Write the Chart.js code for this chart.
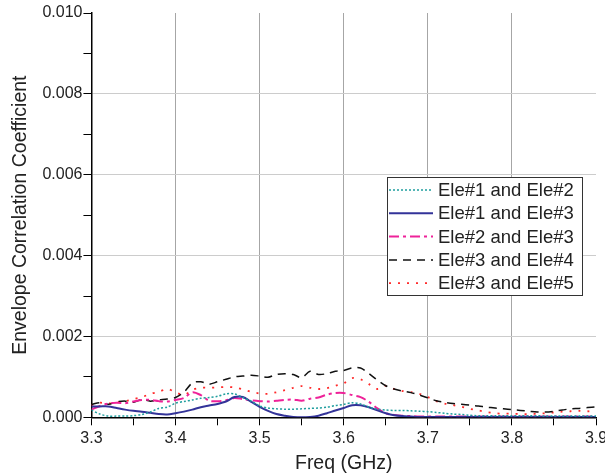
<!DOCTYPE html>
<html>
<head>
<meta charset="utf-8">
<script src="https://cdn.jsdelivr.net/npm/chart.js@4.4.0/dist/chart.umd.min.js"></script>
<style>
  html, body { margin: 0; padding: 0; background: #fff; }
</style>
</head>
<body>
<canvas id="eccChart" width="605" height="475"></canvas>
<script>
// Frequency points (GHz)
const freqs = [
    3.30, 3.31, 3.32, 3.33, 3.34, 3.35, 3.36, 3.37, 3.38, 3.39,
    3.40, 3.41, 3.42, 3.43, 3.44, 3.45, 3.46, 3.47, 3.48, 3.49,
    3.50, 3.51, 3.52, 3.53, 3.54, 3.55, 3.56, 3.57, 3.58, 3.59,
    3.60, 3.61, 3.62, 3.63, 3.64, 3.65, 3.66, 3.67, 3.68, 3.69,
    3.70, 3.71, 3.72, 3.73, 3.74, 3.75, 3.76, 3.77, 3.78, 3.79,
    3.80, 3.81, 3.82, 3.83, 3.84, 3.85, 3.86, 3.87, 3.88, 3.89,
    3.90
];

const seriesLabels = ['Ele#1 and Ele#2', 'Ele#1 and Ele#3', 'Ele#2 and Ele#3', 'Ele#3 and Ele#4', 'Ele#3 and Ele#5'];

const ecc12 = [
    0.00018, 0.00008, 0.00003, 0.00003, 0.00003, 0.00004, 0.00007, 0.00013, 0.00022, 0.00025,
    0.00035, 0.00039, 0.00043, 0.00047, 0.00049, 0.00052, 0.00058, 0.00058, 0.00049, 0.00040,
    0.00028, 0.00023, 0.00021, 0.00020, 0.00020, 0.00021, 0.00022, 0.00023, 0.00025, 0.00029,
    0.00032, 0.00036, 0.00033, 0.00025, 0.00020, 0.00018, 0.00017, 0.00017, 0.00016, 0.00015,
    0.00014, 0.00012, 0.00010, 0.00008, 0.00007, 0.00005, 0.00004, 0.00004, 0.00004, 0.00004,
    0.00004, 0.00004, 0.00004, 0.00004, 0.00003, 0.00003, 0.00003, 0.00003, 0.00003, 0.00003,
    0.00003
];

const ecc13 = [
    0.00027, 0.00027, 0.00027, 0.00023, 0.00019, 0.00016, 0.00014, 0.00011, 0.00008, 0.00007,
    0.00010, 0.00014, 0.00019, 0.00025, 0.00029, 0.00033, 0.00039, 0.00050, 0.00050, 0.00038,
    0.00026, 0.00016, 0.00008, 0.00004, 0.00001, 0.00000, 0.00001, 0.00004, 0.00010, 0.00017,
    0.00023, 0.00030, 0.00030, 0.00025, 0.00017, 0.00010, 0.00005, 0.00003, 0.00002, 0.00001,
    0.00001, 0.00001, 0.00001, 0.00001, 0.00001, 0.00001, 0.00001, 0.00001, 0.00001, 0.00001,
    0.00001, 0.00001, 0.00001, 0.00001, 0.00001, 0.00001, 0.00001, 0.00001, 0.00001, 0.00001,
    0.00001
];

const ecc23 = [
    0.00019, 0.00028, 0.00034, 0.00036, 0.00035, 0.00039, 0.00043, 0.00043, 0.00040, 0.00039,
    0.00043, 0.00048, 0.00062, 0.00055, 0.00041, 0.00040, 0.00042, 0.00048, 0.00045, 0.00042,
    0.00040, 0.00039, 0.00041, 0.00043, 0.00044, 0.00041, 0.00046, 0.00049, 0.00056, 0.00060,
    0.00060, 0.00055, 0.00050, 0.00038, 0.00022, 0.00010, 0.00006, 0.00004, 0.00003, 0.00002,
    0.00002, 0.00002, 0.00002, 0.00002, 0.00002, 0.00002, 0.00002, 0.00002, 0.00002, 0.00002,
    0.00002, 0.00002, 0.00002, 0.00002, 0.00002, 0.00002, 0.00002, 0.00002, 0.00002, 0.00002,
    0.00002
];

const ecc34 = [
    0.00032, 0.00036, 0.00032, 0.00038, 0.00040, 0.00037, 0.00044, 0.00040, 0.00043, 0.00045,
    0.00049, 0.00062, 0.00085, 0.00088, 0.00082, 0.00088, 0.00094, 0.00100, 0.00102, 0.00104,
    0.00102, 0.00099, 0.00106, 0.00108, 0.00106, 0.00098, 0.00114, 0.00106, 0.00108, 0.00114,
    0.00116, 0.00122, 0.00122, 0.00108, 0.00092, 0.00078, 0.00070, 0.00065, 0.00061, 0.00055,
    0.00048, 0.00041, 0.00037, 0.00034, 0.00032, 0.00030, 0.00028, 0.00025, 0.00023, 0.00021,
    0.00019, 0.00017, 0.00015, 0.00013, 0.00013, 0.00015, 0.00018, 0.00021, 0.00022, 0.00024,
    0.00026
];

const ecc35 = [
    0.00030, 0.00036, 0.00034, 0.00037, 0.00040, 0.00045, 0.00050, 0.00058, 0.00063, 0.00070,
    0.00062, 0.00055, 0.00068, 0.00073, 0.00073, 0.00074, 0.00075, 0.00074, 0.00069, 0.00063,
    0.00059, 0.00058, 0.00062, 0.00067, 0.00073, 0.00077, 0.00073, 0.00070, 0.00072, 0.00078,
    0.00084, 0.00097, 0.00094, 0.00082, 0.00070, 0.00078, 0.00070, 0.00065, 0.00062, 0.00058,
    0.00050, 0.00040, 0.00034, 0.00030, 0.00026, 0.00021, 0.00017, 0.00013, 0.00010, 0.00009,
    0.00009, 0.00008, 0.00008, 0.00009, 0.00010, 0.00012, 0.00014, 0.00015, 0.00016, 0.00015,
    0.00014
];

// Line looks per series: teal dotted, navy solid, magenta dash-dot, black dashed, red dotted
const lineColors = ['#1f9e9e', '#333399', '#ee2299', '#111111', '#ff2a2a'];
const lineWidths = [1.5, 2, 2, 1.5, 1.8];
const lineDashes = [[2, 2], [], [10, 4, 3, 4], [8, 6], [2, 7]];

const seriesValues = [ecc12, ecc13, ecc23, ecc34, ecc35];

const FONT = '"Liberation Sans", Arial, sans-serif';

function toPoints(values) {
    return freqs.map((f, i) => ({ x: f, y: values[i] }));
}

const datasets = seriesValues.map((vals, i) => ({
    label: seriesLabels[i],
    data: toPoints(vals),
    borderColor: lineColors[i],
    borderWidth: lineWidths[i],
    borderDash: lineDashes[i],
    pointRadius: 0,
    tension: 0.3,
    fill: false
}));

// Boxed legend with line samples, drawn inside the plot
const boxLegend = {
    id: 'boxLegend',
    afterDatasetsDraw(chart) {
        const ctx = chart.ctx;
        const x0 = 387, y0 = 177, w = 195, h = 118;
        const rowH = 23.3;
        ctx.save();
        ctx.fillStyle = '#fff';
        ctx.fillRect(x0, y0, w, h);
        ctx.strokeStyle = '#333';
        ctx.lineWidth = 1;
        ctx.setLineDash([]);
        ctx.strokeRect(x0 + 0.5, y0 + 0.5, w, h);
        ctx.font = '18.5px ' + FONT;
        ctx.textBaseline = 'middle';
        chart.data.datasets.forEach((ds, i) => {
            const cy = y0 + 13 + i * rowH;
            ctx.beginPath();
            ctx.strokeStyle = ds.borderColor;
            ctx.lineWidth = ds.borderWidth;
            ctx.setLineDash(ds.borderDash);
            ctx.moveTo(x0 + 2, cy);
            ctx.lineTo(x0 + 46, cy);
            ctx.stroke();
            ctx.setLineDash([]);
            ctx.fillStyle = '#222';
            ctx.fillText(ds.label, x0 + 51, cy + 1);
        });
        ctx.restore();
    }
};

const isMajorX = v => Math.round(v * 100) % 10 === 0;
const isMajorY = v => Math.round(v * 1000) % 2 === 0;

new Chart(document.getElementById('eccChart').getContext('2d'), {
    type: 'line',
    data: { datasets: datasets },
    options: {
        responsive: false,
        animation: false,
        layout: { padding: { left: 9, right: 9, top: 13, bottom: 2 } },
        plugins: {
            legend: { display: false },
            tooltip: { enabled: false }
        },
        scales: {
            x: {
                type: 'linear',
                min: 3.3,
                max: 3.9,
                // let the last tick label run off the edge like the original
                afterFit: scale => { scale.paddingRight = 0; },
                border: { color: '#000', width: 1.5 },
                grid: {
                    color: c => (isMajorX(c.tick.value) && c.tick.value > 3.31 && c.tick.value < 3.89) ? '#a6a6a6' : 'transparent',
                    tickColor: '#000',
                    tickLength: 8,
                    lineWidth: 1
                },
                ticks: {
                    stepSize: 0.05,
                    color: '#222',
                    font: { family: FONT, size: 16 },
                    padding: 4,
                    maxRotation: 0,
                    autoSkip: false,
                    callback: v => isMajorX(v) ? v.toFixed(1) : ''
                },
                title: {
                    display: true,
                    text: 'Freq (GHz)',
                    color: '#222',
                    font: { family: FONT, size: 19.5, lineHeight: 1.0 },
                    padding: { top: 1, bottom: 0 }
                }
            },
            y: {
                min: 0,
                max: 0.01,
                afterFit: scale => { scale.paddingTop = 0; },
                border: { color: '#000', width: 1.5 },
                grid: {
                    color: c => (isMajorY(c.tick.value) && c.tick.value > 0.0001 && c.tick.value < 0.0099) ? '#cccccc' : 'transparent',
                    tickColor: '#000',
                    tickLength: 8,
                    lineWidth: 1
                },
                ticks: {
                    stepSize: 0.001,
                    color: '#222',
                    font: { family: FONT, size: 16 },
                    padding: 1,
                    autoSkip: false,
                    callback: v => isMajorY(v) ? v.toFixed(3) : ''
                },
                title: {
                    display: true,
                    text: 'Envelope Correlation Coefficient',
                    color: '#222',
                    font: { family: FONT, size: 19.5 },
                    padding: { top: 0, bottom: 9 }
                }
            }
        }
    },
    plugins: [boxLegend]
});
</script>
</body>
</html>
